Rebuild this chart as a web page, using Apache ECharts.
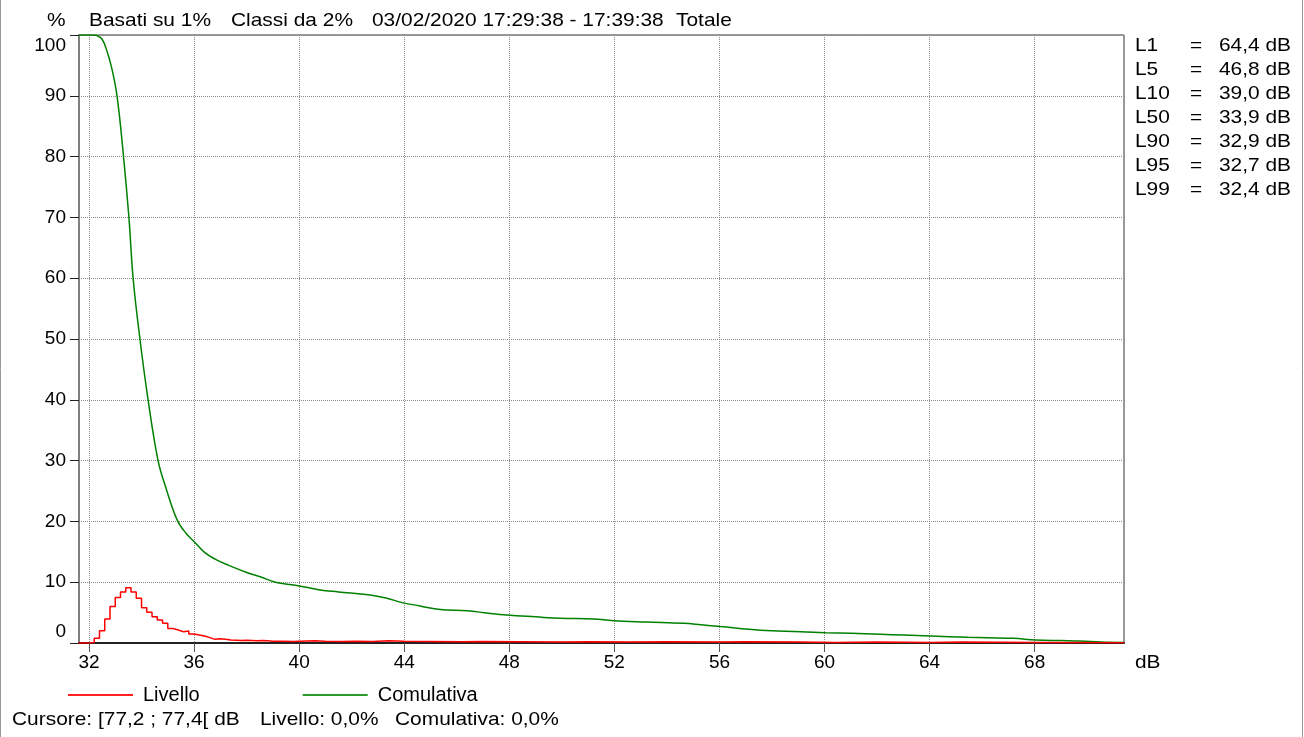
<!DOCTYPE html>
<html><head><meta charset="utf-8">
<script src="https://cdn.jsdelivr.net/npm/echarts@6/dist/echarts.min.js"></script>
<style>html,body{margin:0;padding:0;background:#fff}#c{width:1304px;height:737px}</style>
</head><body><div id="c"></div>
<script>
const xTicks = [32, 36, 40, 44, 48, 52, 56, 60, 64, 68];
const yTicks = [0, 10, 20, 30, 40, 50, 60, 70, 80, 90, 100];

// Livello: histogram per class (dB class start, %)
const livello = [
  [31.6, 0], [32.0, 0.1], [32.2, 0.77], [32.4, 2.0], [32.6, 3.95], [32.8, 6.0], [33.0, 7.5],
  [33.2, 8.4], [33.4, 9.1], [33.6, 8.4], [33.8, 7.35], [34.0, 5.8], [34.2, 5.05], [34.4, 4.3],
  [34.6, 3.8], [34.8, 3.24], [35.0, 2.4], [35.2, 2.14], [35.4, 1.86], [35.6, 1.97], [35.8, 1.48],
  [36.0, 1.3], [36.2, 1.15], [36.4, 0.88], [36.6, 0.6], [36.8, 0.7], [37.0, 0.6], [37.2, 0.5],
  [37.4, 0.45], [37.6, 0.4], [37.8, 0.45], [38.0, 0.4], [38.2, 0.35], [38.4, 0.4], [38.6, 0.35],
  [38.8, 0.3], [39.0, 0.3], [39.4, 0.25], [39.8, 0.3], [40.0, 0.35], [40.6, 0.3], [41.0, 0.25],
  [41.6, 0.3], [42.2, 0.25], [42.8, 0.35], [43.4, 0.3], [44.0, 0.25], [45.0, 0.2], [46.2, 0.25],
  [47.0, 0.2], [48.4, 0.15], [50.0, 0.2], [51.0, 0.15], [52.6, 0.2], [54.0, 0.15], [56.0, 0.2],
  [57.0, 0.15], [59.0, 0.1], [60.4, 0.15], [62.0, 0.1], [64.0, 0.15], [65.2, 0.1], [68.0, 0.05],
  [71.4, 0.05]
];

// Comulativa: cumulative curve (dB, %)
const cumulativa = [
  [31.62, 100], [32.15, 100], [32.3, 99.9], [32.5, 99.3], [32.69, 97.3], [32.88, 94.3],
  [33.07, 89.9], [33.3, 80.7], [33.52, 70.0], [33.68, 60], [33.94, 50], [34.25, 40],
  [34.63, 30], [34.93, 25.5], [35.35, 20.3], [35.7, 18.0], [36.0, 16.7], [36.4, 14.9], [36.8, 13.8], [37.3, 12.8],
  [38.06, 11.5], [38.52, 10.9], [39.09, 10], [39.85, 9.5], [40.23, 9.2], [40.8, 8.7],
  [41.5, 8.4], [42.7, 7.9], [43.3, 7.4], [43.96, 6.6], [44.6, 6.1], [45.37, 5.5], [46.4, 5.3],
  [47.2, 4.9], [47.92, 4.6], [49.0, 4.3], [49.94, 4.06], [51.2, 3.95], [51.96, 3.67],
  [53.2, 3.45], [54.63, 3.24], [55.3, 3.0], [56.04, 2.7], [57.56, 2.1], [59.09, 1.86],
  [60.04, 1.7], [61.0, 1.6], [62.13, 1.43], [63.0, 1.3], [64.04, 1.15], [65.45, 0.94],
  [66.2, 0.86], [67.2, 0.77], [68.04, 0.49], [69.0, 0.4], [69.75, 0.33], [70.52, 0.16],
  [71.39, 0.1]
];

const statNames = ['L1', 'L5', 'L10', 'L50', 'L90', 'L95', 'L99'];
const statValues = ['64,4 dB', '46,8 dB', '39,0 dB', '33,9 dB', '32,9 dB', '32,7 dB', '32,4 dB'];
const headerParts = ['Basati su 1%', 'Classi da 2%', '03/02/2020 17:29:38 - 17:39:38', 'Totale'];
const cursorParts = ['Cursore: [77,2 ; 77,4[ dB', 'Livello: 0,0%', 'Comulativa: 0,0%'];
const seriesNames = ['Livello', 'Comulativa'];
const yUnit = '%';
const xUnit = 'dB';

const FONT = 'Liberation Sans, Arial, sans-serif';
const chart = echarts.init(document.getElementById('c'), null, { renderer: 'canvas' });

function txt(text, x, y, extra) {
  return Object.assign({
    type: 'text', x: x, y: y, scaleX: 1.1, silent: true,
    style: { text: text, fontSize: 19, fontFamily: FONT, fill: '#000', verticalAlign: 'middle', align: 'left' }
  }, extra || {});
}

const graphics = [];
graphics.push({ type: 'line', shape: { x1: 0.5, y1: 0, x2: 0.5, y2: 737 }, style: { stroke: '#999', lineWidth: 1 }, silent: true });
graphics.push({ type: 'line', shape: { x1: 1302.5, y1: 0, x2: 1302.5, y2: 737 }, style: { stroke: '#999', lineWidth: 1 }, silent: true });
graphics.push(txt(yUnit, 47, 21));
const headerX = [89, 231, 372, 676];
headerParts.forEach((t, i) => graphics.push(txt(t, headerX[i], 21)));
statNames.forEach((n, i) => {
  const y = 46 + i * 24;
  graphics.push(txt(n, 1135, y));
  graphics.push(txt('=', 1190, y));
  graphics.push(txt(statValues[i], 1219, y));
});
graphics.push(txt(xUnit, 1135, 663));
const cursorX = [12, 260, 395];
cursorParts.forEach((t, i) => graphics.push(txt(t, cursorX[i], 720)));

chart.setOption({
  backgroundColor: '#fff',
  animation: false,
  textStyle: { fontFamily: FONT },
  grid: {
    left: 79, top: 35, right: 180, bottom: 94,
    show: true, borderColor: '#333', borderWidth: 1,
    containLabel: false, outerBoundsMode: 'none'
  },
  legend: {
    data: seriesNames,
    left: 63, top: 680,
    icon: 'rect', itemWidth: 65, itemHeight: 2, itemGap: 103,
    textStyle: { fontSize: 20, color: '#000', fontFamily: FONT, padding: [0, 0, 0, 5] },
    selectedMode: false
  },
  xAxis: {
    type: 'value', min: 31.62, max: 71.4,
    axisLine: { show: true, onZero: false, lineStyle: { color: '#222', width: 2 } },
    axisTick: { show: true, customValues: xTicks, length: 9, inside: false, lineStyle: { color: '#555', width: 1 } },
    axisLabel: { customValues: xTicks, margin: 10, fontSize: 19, color: '#000', fontFamily: FONT, hideOverlap: false },
    splitLine: { show: true, lineStyle: { color: '#8c8c8c', type: 'dotted', width: 1 } }
  },
  yAxis: {
    type: 'value', min: 0, max: 100, interval: 10,
    axisLine: { show: true, lineStyle: { color: '#808080', width: 2 } },
    axisTick: { show: true, length: 9, inside: false, lineStyle: { color: '#222', width: 1 } },
    axisLabel: {
      margin: 13, fontSize: 19, color: '#000', fontFamily: FONT,
      formatter: function (v) {
        if (v === yTicks[0]) return '{lo|' + v + '}';
        if (v === yTicks[yTicks.length - 1]) return '{hi|' + v + '}';
        return String(v);
      },
      rich: {
        lo: { fontSize: 19, color: '#000', fontFamily: FONT, padding: [0, 0, 23, 0] },
        hi: { fontSize: 19, color: '#000', fontFamily: FONT, padding: [22, 0, 0, 0] }
      }
    },
    splitLine: { show: true, lineStyle: { color: '#8c8c8c', type: 'dotted', width: 1 } }
  },
  series: [
    {
      name: seriesNames[0], type: 'line', step: 'end', data: livello,
      symbol: 'none', z: 4,
      lineStyle: { color: '#ff0000', width: 1.5 },
      itemStyle: { color: '#ff2020' }
    },
    {
      name: seriesNames[1], type: 'line', data: cumulativa, smooth: 0.4,
      symbol: 'none', z: 3,
      lineStyle: { color: '#008000', width: 1.5 },
      itemStyle: { color: '#2e9a2e' }
    }
  ],
  graphic: graphics
});
</script>
</body></html>
